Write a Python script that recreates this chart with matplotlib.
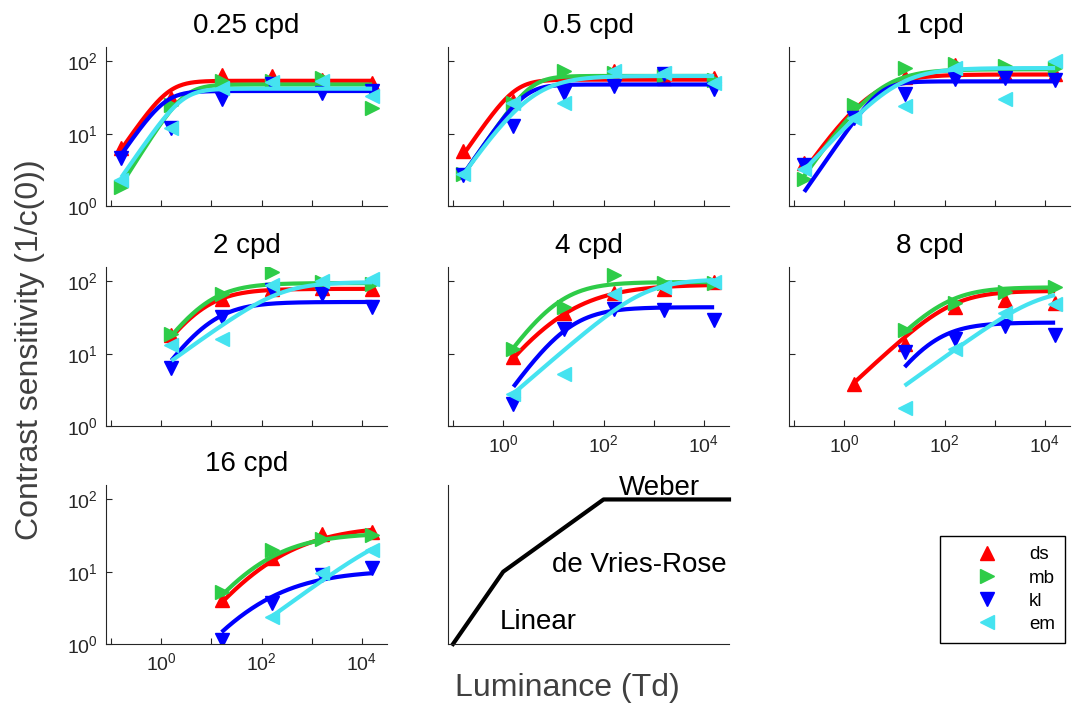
import numpy as np
import matplotlib
matplotlib.use('Agg')
import matplotlib.pyplot as plt
from matplotlib.lines import Line2D
from matplotlib.ticker import FixedLocator, FuncFormatter

plt.rcParams['font.family'] = ['Liberation Sans', 'DejaVu Sans']
plt.rcParams['mathtext.fontset'] = 'custom'
plt.rcParams['mathtext.rm'] = 'Liberation Sans'
plt.rcParams['mathtext.it'] = 'Liberation Sans:italic'

# retinal illuminance of the test conditions (Td)
lum = np.array([0.16, 1.6, 16, 160, 1600, 16000])
nan = np.nan

panels = ['0.25 cpd', '0.5 cpd', '1 cpd', '2 cpd', '4 cpd', '8 cpd', '16 cpd']
subjects = ['ds', 'mb', 'kl', 'em']
colors = ['#ff0000', '#2ecc48', '#0000ff', '#45e3f0']
markers = ['^', '>', 'v', '<']

# measured contrast sensitivity, one row per subject (ds, mb, kl, em)
sens_025 = [[6.3, 31, 64, 63, 56, 50],
            [1.85, 25, 53, 53, 59, 23],
            [4.6, 12, 30, 49, 37, 39],
            [2.3, 12, 43, 52, 53, 33]]
sens_05 = [[5.7, 28, 58, 74, 59, 59],
           [2.8, 27, 74, 69, 63, 55],
           [2.7, 12.6, 37, 46, 66, 41],
           [2.8, 27, 27, 73, 69, 50]]
sens_1 = [[3.9, 21, 60, 88, 68, 68],
          [2.4, 25, 81, 91, 87, 80],
          [3.7, 16.5, 35, 57, 59, 56],
          [3.2, 16.5, 24, 81, 30, 101]]
sens_2 = [[nan, 18, 57, 79, 80, 79],
          [nan, 19, 67, 135, 98, 93],
          [nan, 6.4, 32, 75, 68, 44],
          [nan, 13, 16, 88, 103, 107]]
sens_4 = [[nan, 8.9, 37, 70, 79, 98],
          [nan, 11.6, 44, 121, 95, 96],
          [nan, 2.0, 22, 42, 40, 29],
          [nan, 2.8, 5.2, 67, 83, 97]]
sens_8 = [[nan, 3.8, 13.6, 44, 56, 51],
          [nan, nan, 21, 51, 71, 83],
          [nan, nan, 10.4, 16, 24.5, 18],
          [nan, nan, 1.8, 11.6, 37, 49]]
sens_16 = [[nan, nan, 4.1, 15.5, 33, 36],
           [nan, nan, 5.3, 20, 28, 32],
           [nan, nan, 1.14, 3.7, 9.1, 11.2],
           [nan, nan, nan, 2.4, 9.6, 20]]
sens = [sens_025, sens_05, sens_1, sens_2, sens_4, sens_8, sens_16]

# fitted curves: peak sensitivity, knee luminance, low-luminance slope, knee sharpness
fit_peak = [[54, 48, 39, 42], [56, 63, 48, 63], [66, 78, 53, 81], [79, 95, 52, 98],
            [91, 98, 44, 107], [74, 83, 27, 79], [44, 34.5, 10.6, 40]]
fit_knee = [[1.41, 2.9, 1.2, 2.7], [1.74, 3.7, 2.8, 3.55], [3.3, 4.6, 5.4, 12],
            [5.9, 7.0, 8.7, 240], [10.5, 11.4, 18.6, 687], [140, 107, 50, 7650],
            [95, 65, 46, 44000]]
fit_slope = [[1, 1.1, 1, 1], [1, 1, 1, 1], [1, 1, 1, 0.75], [1, 1, 1, 0.5],
             [1, 1, 1, 0.6], [0.65, 0.7, 1, 0.5], [1, 1, 1, 0.5]]
fit_sharp = [[2, 2, 2, 2], [2, 2, 2, 1], [1, 1, 2, 1], [1, 1, 1, 1],
             [0.6, 1, 1, 1], [1, 1, 1, 1], [0.5, 0.6, 0.5, 1]]

# schematic of the three regimes
sketch_lum = [0.1, 1, 100, 10 ** 4.5]
sketch_sens = [1, 10, 100, 100]

W, H = 1077, 703
fig = plt.figure(figsize=(W / 100, H / 100), dpi=100)

col_left = [106, 448, 789]
row_top = [47, 267, 485]
ax_w, ax_h = 281, 159

xlim = (10 ** -1.1, 10 ** 4.5)
ylim = (1, 10 ** 2.2)
dark = '#262626'


def make_axes(r, c):
    ax = fig.add_axes([col_left[c] / W, 1 - (row_top[r] + ax_h) / H, ax_w / W, ax_h / H])
    ax.set_xscale('log')
    ax.set_yscale('log')
    ax.set_xlim(xlim)
    ax.set_ylim(ylim)
    for s in ['top', 'right']:
        ax.spines[s].set_visible(False)
    for s in ['left', 'bottom']:
        ax.spines[s].set_color(dark)
        ax.spines[s].set_linewidth(0.8)
    return ax


def curve(L, peak, knee, slope, sharp):
    return peak * (1 + (knee / L) ** sharp) ** (-slope / sharp)


pos = [(0, 0), (0, 1), (0, 2), (1, 0), (1, 1), (1, 2), (2, 0)]
xlabel_panels = [4, 5, 6]
ylabel_panels = [0, 3, 6]

for k, (r, c) in enumerate(pos):
    ax = make_axes(r, c)
    for j in range(4):
        y = np.array(sens[k][j], dtype=float)
        ok = ~np.isnan(y)
        ax.plot(lum[ok], y[ok], ls='none', marker=markers[j], ms=10,
                color=colors[j], mec=colors[j])
        L = np.logspace(np.log10(lum[ok][0]), np.log10(lum[ok][-1]), 200)
        ax.plot(L, curve(L, fit_peak[k][j], fit_knee[k][j], fit_slope[k][j], fit_sharp[k][j]),
                color=colors[j], lw=3, solid_capstyle='butt')
    ax.set_title(panels[k], fontsize=20, pad=10)
    ax.xaxis.set_major_locator(FixedLocator([10.0 ** e for e in range(-1, 5)]))
    ax.yaxis.set_major_locator(FixedLocator([1, 10, 100]))
    ax.xaxis.set_minor_locator(FixedLocator([]))
    ax.yaxis.set_minor_locator(FixedLocator([]))
    ax.tick_params(direction='in', length=4, width=0.8, color=dark,
                   labelsize=14, labelcolor=dark, pad=6)
    if k in xlabel_panels:
        ax.xaxis.set_major_formatter(FuncFormatter(
            lambda v, p: r'$10^{%d}$' % round(np.log10(v)) if round(np.log10(v)) % 2 == 0 else ''))
    else:
        ax.set_xticklabels([])
    if k in ylabel_panels:
        ax.yaxis.set_major_formatter(FuncFormatter(lambda v, p: r'$10^{%d}$' % round(np.log10(v))))
    else:
        ax.set_yticklabels([])

# schematic panel
ax = make_axes(2, 1)
ax.plot(sketch_lum, sketch_sens, color='black', lw=3, clip_on=False)
ax.set_xticks([])
ax.set_yticks([])
ax.minorticks_off()
ax.text(202, 117, 'Weber', fontsize=20, ha='left', va='baseline')
ax.text(9.4, 10, 'de Vries-Rose', fontsize=20, ha='left', va='baseline')
ax.text(0.87, 1.62, 'Linear', fontsize=20, ha='left', va='baseline')

fig.text(30 / W, 1 - 350 / H, 'Contrast sensitivity (1/c(0))', rotation=90,
         ha='center', va='center', fontsize=23, color='#404040')
fig.text(567 / W, 1 - 688 / H, 'Luminance (Td)', ha='center', va='center',
         fontsize=23, color='#404040')

handles = [Line2D([], [], ls='none', marker=m, ms=10, color=cl, mec=cl)
           for m, cl in zip(markers, colors)]
leg = fig.legend(handles, subjects, loc='upper left', bbox_to_anchor=(940 / W, 1 - 536 / H),
                 borderaxespad=0, fontsize=13.5, fancybox=False, framealpha=1,
                 edgecolor='black', borderpad=0.55, labelspacing=0.32,
                 handlelength=3.9, handletextpad=0.3)
leg.get_frame().set_linewidth(1.0)

fig.savefig('out.png', dpi=100)
